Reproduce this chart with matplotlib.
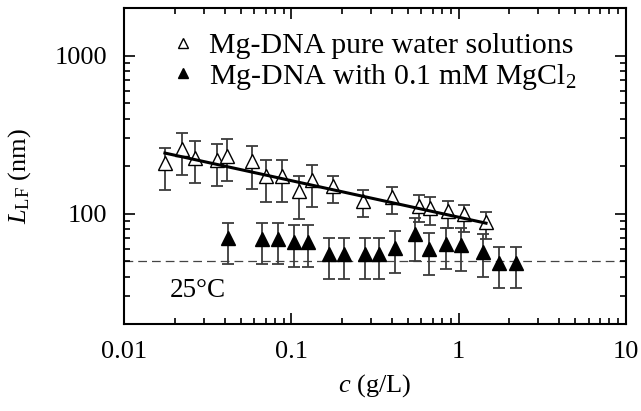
import numpy as np
import matplotlib
matplotlib.use("Agg")
import matplotlib.pyplot as plt
from matplotlib.ticker import LogLocator, NullFormatter, FixedFormatter, FixedLocator

plt.rcParams['font.family'] = ['Liberation Serif', 'DejaVu Serif']
plt.rcParams['mathtext.fontset'] = 'custom'
plt.rcParams['mathtext.rm'] = 'Liberation Serif'
plt.rcParams['mathtext.it'] = 'Liberation Serif:italic'

# Mg-DNA pure water solutions (open triangles)
c_water = [0.0175, 0.0221, 0.0265, 0.036, 0.0413, 0.0579, 0.0705, 0.0882, 0.111,
           0.132, 0.177, 0.269, 0.398, 0.583, 0.675, 0.862, 1.08, 1.46]
L_water = [210, 258, 226, 218, 234, 215, 173, 173, 140,
           163, 151, 121, 128, 112, 109, 105, 99.6, 89.3]
L_water_hi = [262, 326, 288, 277, 299, 268, 218, 218, 173,
              205, 174, 142, 149, 131, 127, 121, 114, 103]
L_water_lo = [142, 177, 157, 151, 162, 144, 119, 119, 93,
              110, 117, 95.3, 99.6, 88.6, 85.1, 81.8, 76.5, 69.4]

# Mg-DNA with 0.1 mM MgCl2 (filled triangles)
c_mg = [0.0416, 0.067, 0.0835, 0.104, 0.125, 0.168, 0.207, 0.276, 0.334,
        0.417, 0.549, 0.666, 0.838, 1.035, 1.40, 1.75, 2.2]
L_mg = [70.1, 69.4, 69.4, 66.7, 66.7, 55.7, 55.7, 55.4, 55.4,
        61.1, 74.3, 59.9, 64.5, 63.5, 57.6, 49.0, 48.7]
L_mg_hi = [88.1, 88.1, 88.1, 85.1, 85.1, 70.7, 70.7, 70.7, 70.7,
           78.3, 93.9, 76.1, 81.8, 81.1, 74.3, 62.0, 62.0]
L_mg_lo = [47.9, 48.1, 48.1, 46.2, 46.2, 38.5, 38.5, 38.5, 38.5,
           42.3, 50.3, 40.9, 44.5, 43.6, 39.9, 34.2, 34.0]

# power-law fit through the pure water data, L = A * c^b
fit_amp = 95.3
fit_exp = -0.231
L_limit = 50  # dashed level

fig = plt.figure(figsize=(6.41, 4.11), dpi=100)
ax = fig.add_axes([0.1939, 0.2109, 0.7822, 0.7689])
ax.set_xscale('log')
ax.set_yscale('log')
ax.set_xlim(0.01, 10)
ax.set_ylim(20, 2000)

err_col = '#3c3c3c'
c_w = np.array(c_water)
L_w = np.array(L_water)
ax.errorbar(c_w, L_w, yerr=[L_w - np.array(L_water_lo), np.array(L_water_hi) - L_w],
            fmt='none', ecolor=err_col, elinewidth=1.3, capsize=4, capthick=1.3, zorder=2)
c_m = np.array(c_mg)
L_m = np.array(L_mg)
ax.errorbar(c_m, L_m, yerr=[L_m - np.array(L_mg_lo), np.array(L_mg_hi) - L_m],
            fmt='none', ecolor=err_col, elinewidth=1.3, capsize=4, capthick=1.3, zorder=2)

ax.plot(c_w, L_w, '^', ms=10.5, mfc='white', mec='black', mew=1.0, ls='none',
        zorder=3, label='Mg-DNA pure water solutions')
ax.plot(c_m, L_m, '^', ms=10.5, mfc='black', mec='black', ls='none',
        zorder=3, label='Mg-DNA with 0.1 mM MgCl$_2$')

cfit = np.logspace(np.log10(c_water[0]), np.log10(c_water[-1]), 50)
ax.plot(cfit, fit_amp * cfit ** fit_exp, color='black', lw=2.2, zorder=4)
ax.axhline(L_limit, color='#444444', lw=0.9, dashes=(7, 4), zorder=1)

ax.text(0.091, 0.1085, '25°C', transform=ax.transAxes, fontsize=19.5,
        va='center', ha='left')

# ticks
ax.xaxis.set_major_locator(FixedLocator([0.01, 0.1, 1, 10]))
ax.xaxis.set_major_formatter(FixedFormatter(['0.01', '0.1', '1', '10']))
ax.xaxis.set_minor_locator(LogLocator(base=10, subs=np.arange(2, 10)))
ax.xaxis.set_minor_formatter(NullFormatter())
ax.yaxis.set_major_locator(FixedLocator([100, 1000]))
ax.yaxis.set_major_formatter(FixedFormatter(['100', '1000']))
ax.yaxis.set_minor_locator(LogLocator(base=10, subs=np.arange(2, 10)))
ax.yaxis.set_minor_formatter(NullFormatter())
ax.tick_params(which='both', direction='in', top=True, right=True, width=1.2)
ax.tick_params(which='major', length=8, labelsize=19, pad=12)
ax.tick_params(which='minor', length=4.5)
for sp in ax.spines.values():
    sp.set_linewidth(1.5)

ax.set_xlabel('$c$ (g/L)', fontsize=19)
ax.set_ylabel('$L_{\\rm LF}$ (nm)', fontsize=19)
ax.xaxis.set_label_coords(0.5, -0.15)
ax.yaxis.set_label_coords(-0.182, 0.47)

ax.legend(loc='upper left', bbox_to_anchor=(0.046, 0.99), frameon=False,
          fontsize=21.5, markerscale=0.75, handlelength=1.0, handletextpad=0.35,
          labelspacing=0.08, borderpad=0.2)

fig.savefig('out.png', dpi=100)
